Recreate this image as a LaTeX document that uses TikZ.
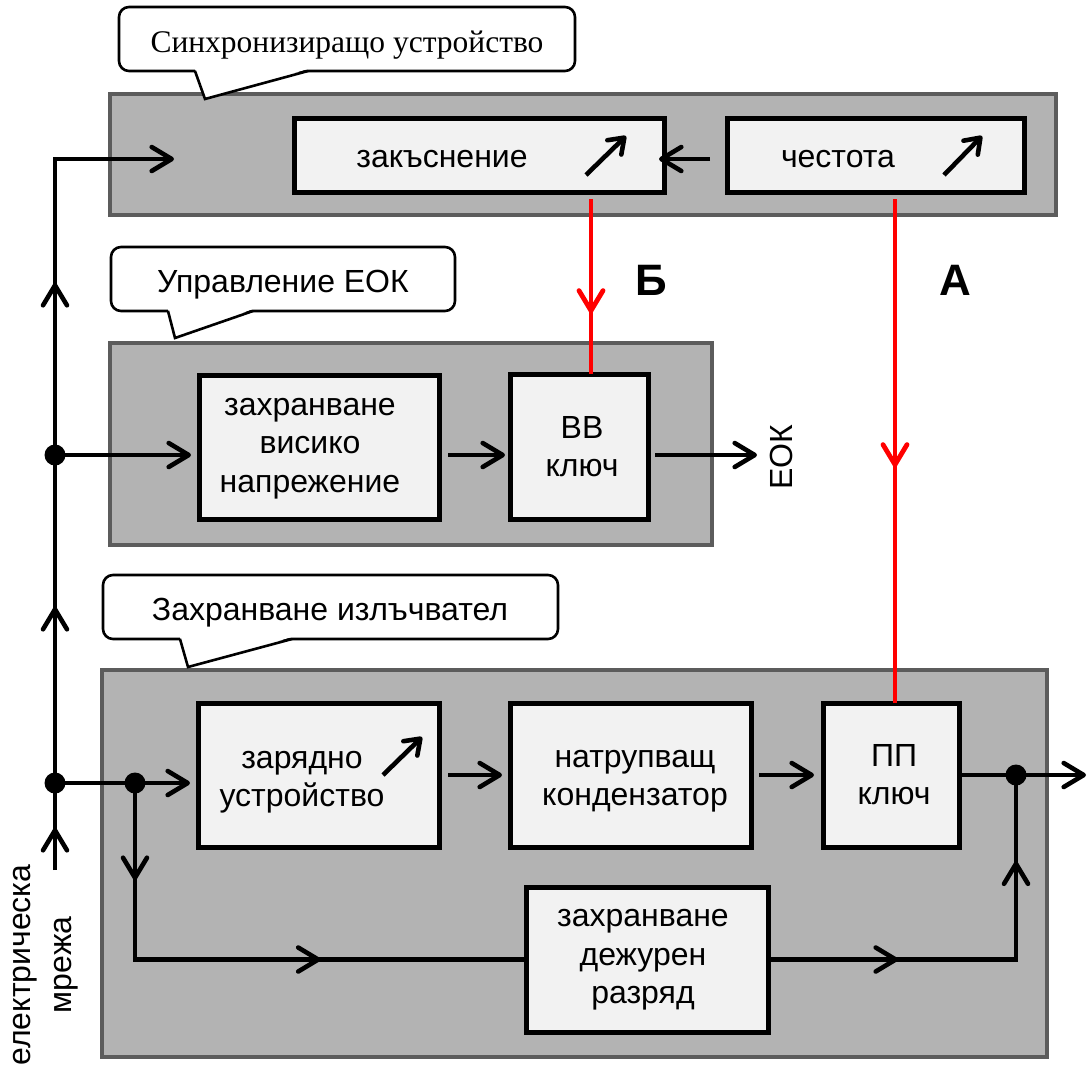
\documentclass[tikz,border=0pt]{standalone}
\usepackage{fontspec}
\setmainfont{Liberation Sans}
\newfontfamily\calloutserif{Liberation Serif}
\usetikzlibrary{arrows.meta,decorations.markings}

\definecolor{panelfill}{HTML}{B3B3B3}
\definecolor{paneledge}{HTML}{5C5C5C}
\definecolor{blockfill}{HTML}{F2F2F2}
\definecolor{signalred}{HTML}{FF0000}

\tikzset{
  panel/.style={draw=paneledge, fill=panelfill, line width=4pt, inner sep=0pt, outer sep=0pt},
  block/.style={draw=black, fill=blockfill, line width=5pt, inner sep=0pt, outer sep=0pt},
  txt/.style={font=\fontsize{32}{38.5}\selectfont, inner sep=0pt, align=center},
  bigletter/.style={font=\bfseries\fontsize{44}{44}\selectfont, inner sep=0pt},
  bubble/.style={draw=black, fill=white, line width=2.6pt},
  wire/.style={draw=black, line width=4.6pt},
  sigwire/.style={draw=signalred, line width=4.8pt},
  barb/.tip={Straight Barb[length=20pt,width=24pt,round]},
  tipped/.style={-barb},
  midtip/.style={postaction={decorate, decoration={markings, mark=at position #1 with {\arrow{barb}}}}},
  knob/.style={line width=4.6pt, -{Straight Barb[length=14pt,width=20pt,round]}},
}

\begin{document}
\begin{tikzpicture}[x=1pt,y=-1pt]
\useasboundingbox (0,0) rectangle (1090,1066);

% grey unit panels
\node[panel, minimum width=946pt, minimum height=121pt] (syncpanel) at (583,154.5) {};
\node[panel, minimum width=602pt, minimum height=202pt] (eokpanel) at (411,444) {};
\node[panel, minimum width=945pt, minimum height=387pt] (emitpanel) at (574.5,863.5) {};

% speech-bubble titles of the panels
\draw[bubble, rounded corners=10pt] (119,7) rectangle (575,71);
\fill[white] (195,69) -- (205,99) -- (308,69) -- cycle;
\draw[bubble, fill=none] (195,71) -- (205,99) -- (308,71);
\node[font=\calloutserif\fontsize{31.5}{31.5}\selectfont, inner sep=0pt, anchor=base] (syncname) at (347,52) {Синхронизиращо устройство};

\draw[bubble, rounded corners=10pt] (111,247) rectangle (455,311);
\fill[white] (168,309) -- (175,338) -- (253,309) -- cycle;
\draw[bubble, fill=none] (168,311) -- (175,338) -- (253,311);
\node[txt, anchor=base] (eokname) at (283,292) {Управление ЕОК};

\draw[bubble, rounded corners=10pt] (103,575) rectangle (558,639);
\fill[white] (180,637) -- (188,667) -- (292,637) -- cycle;
\draw[bubble, fill=none] (180,639) -- (188,667) -- (292,639);
\node[txt, anchor=base] (emitname) at (330,620) {Захранване излъчвател};

% functional blocks
\node[block, minimum width=370pt, minimum height=74pt] (delay) at (479,155) {};
\node[block, minimum width=297pt, minimum height=74pt] (freq) at (875.5,155) {};
\node[block, minimum width=240pt, minimum height=144pt] (hvsupply) at (319,447) {};
\node[block, minimum width=138pt, minimum height=145pt] (hvswitch) at (579,446.5) {};
\node[block, minimum width=241pt, minimum height=144pt] (charger) at (318.5,775) {};
\node[block, minimum width=241pt, minimum height=144pt] (storage) at (630.5,775) {};
\node[block, minimum width=136pt, minimum height=144pt] (sswitch) at (891,775) {};
\node[block, minimum width=242pt, minimum height=145pt] (standby) at (647,959.5) {};

% block captions
\node[txt, anchor=base] (delaytxt) at (442,167) {закъснение};
\node[txt, anchor=base] (freqtxt) at (838,167) {честота};
\node[txt] (hvsupplytxt) at (310,448.5) {захранване\\висико\\напрежение};
\node[txt] (hvswitchtxt) at (582,446.5) {ВВ\\ключ};
\node[txt] (chargertxt) at (302,782) {зарядно\\устройство};
\node[txt] (storagetxt) at (635,781) {натрупващ\\кондензатор};
\node[txt] (sswitchtxt) at (894,774.5) {ПП\\ключ};
\node[txt] (standbytxt) at (643,960) {захранване\\дежурен\\разряд};

% adjustable-parameter marks
\draw[knob] (586,175) -- (626,136);
\draw[knob] (944,175) -- (982,136);
\draw[knob] (383,775) -- (422,737);

% junctions and free ends
\coordinate (mainsin) at (55,870);
\coordinate (j2) at (55,783);
\coordinate (j1) at (55,455);
\coordinate (bend) at (55,159);
\coordinate (syncin) at (174,159);
\coordinate (j3) at (135,783);
\coordinate (j4) at (1016,775);
\coordinate (outlet) at (1086,775);
\coordinate (eokout) at (757,455);
\coordinate (tapB) at (591,199);
\coordinate (tapA) at (895,199);

% power and signal wiring
\draw[wire, tipped, midtip=42pt, midtip=263pt, midtip=587pt] (mainsin) -- (j2) -- (j1) -- (bend) -- (syncin);
\draw[wire, tipped, shorten <=17pt, shorten >=-5pt] (freq.west |- bend) -- (delay.east |- bend);
\draw[wire, tipped, shorten >=8pt] (j1) -- (hvsupply.west |- j1);
\draw[wire, tipped, shorten <=9pt, shorten >=5pt] (hvsupply.east |- j1) -- (hvswitch.west |- j1);
\draw[wire, tipped, shorten <=7pt] (hvswitch.east |- j1) -- (eokout);
\draw[wire] (j2) -- (j3);
\draw[wire, tipped, shorten >=8pt] (j3) -- (charger.west |- j3);
\draw[wire, tipped, shorten <=9pt, shorten >=8pt] (charger.east) -- (storage.west);
\draw[wire, tipped, shorten <=8pt, shorten >=9pt] (storage.east) -- (sswitch.west);
\draw[wire] (sswitch.east) -- (j4);
\draw[wire, tipped] (j4) -- (outlet);
\draw[wire, midtip=97pt, midtip=362pt] (j3) -- (j3 |- standby) -- (standby.west);
\draw[wire, midtip=130pt, midtip=346pt] (standby.east) -- (j4 |- standby) -- (j4);

% trigger lines
\draw[sigwire, midtip=114pt] (tapB) -- (hvswitch.north -| tapB);
\draw[sigwire, midtip=268pt] (tapA) -- (sswitch.north -| tapA);

% junction dots
\foreach \j in {j1,j2,j3,j4} \fill (\j) circle[radius=10.5pt];

% labels
\node[bigletter, anchor=base] (labelB) at (651,295) {Б};
\node[bigletter, anchor=base] (labelA) at (955,295) {А};
\node[txt, rotate=90] (eoklabel) at (781.5,457) {ЕОК};
\node[txt, rotate=90, font=\fontsize{32}{41}\selectfont] (mainslabel) at (45.5,965) {електрическа\\мрежа};
\end{tikzpicture}
\end{document}
